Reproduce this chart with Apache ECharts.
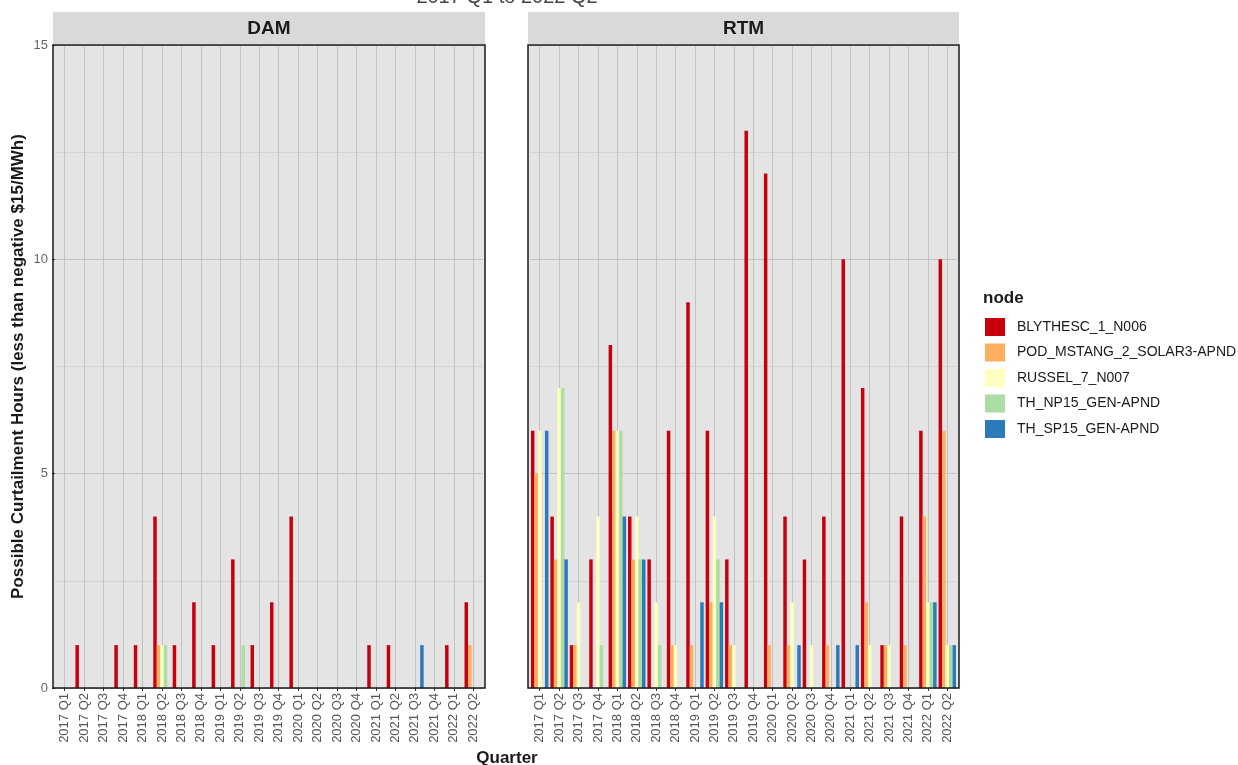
<!DOCTYPE html>
<html>
<head>
<meta charset="utf-8">
<script src="https://cdn.jsdelivr.net/npm/echarts@6/dist/echarts.min.js"></script>
<style>
html,body{margin:0;padding:0;background:#fff;}
#chart{width:1238px;height:765px;}
</style>
</head>
<body>
<div id="chart"></div>
<script>
const categories = ['2017 Q1','2017 Q2','2017 Q3','2017 Q4','2018 Q1','2018 Q2','2018 Q3','2018 Q4',
  '2019 Q1','2019 Q2','2019 Q3','2019 Q4','2020 Q1','2020 Q2','2020 Q3','2020 Q4',
  '2021 Q1','2021 Q2','2021 Q3','2021 Q4','2022 Q1','2022 Q2'];
const nodes = ['BLYTHESC_1_N006','POD_MSTANG_2_SOLAR3-APND','RUSSEL_7_N007','TH_NP15_GEN-APND','TH_SP15_GEN-APND'];
const colors = ['#C8000E','#FDAE61','#FFFFBF','#ABDDA4','#2B7BBA'];
const yTicks = [0, 5, 10, 15];

// DAM values per node
const damBlythe = [0,1,0,1,1,4,1,2,1,3,1,2,4,0,0,0,1,1,0,0,1,2];
const damPod    = [0,0,0,0,0,1,0,0,0,0,0,0,0,0,0,0,0,0,0,0,0,1];
const damRussel = [0,0,0,0,0,1,0,0,0,0,0,0,0,0,0,0,0,0,0,0,0,0];
const damNp15   = [0,0,0,0,0,1,0,0,0,1,0,0,0,0,0,0,0,0,0,0,0,0];
const damSp15   = [0,0,0,0,0,0,0,0,0,0,0,0,0,0,0,0,0,0,1,0,0,0];

// RTM values per node
const rtmBlythe = [6,4,1,3,8,4,3,6,9,6,3,13,12,4,3,4,10,7,1,4,6,10];
const rtmPod    = [5,3,1,0,6,3,0,1,1,2,1,0,1,1,0,1,0,2,1,1,4,6];
const rtmRussel = [6,7,2,4,6,4,2,1,0,4,1,0,0,2,1,0,0,1,1,0,2,1];
const rtmNp15   = [0,7,0,1,6,3,1,0,0,3,0,0,0,0,0,0,0,0,0,0,2,1];
const rtmSp15   = [6,3,0,0,4,3,0,0,2,2,0,0,0,1,0,1,1,0,0,0,2,1];

const damSeries = [damBlythe, damPod, damRussel, damNp15, damSp15];
const rtmSeries = [rtmBlythe, rtmPod, rtmRussel, rtmNp15, rtmSp15];

const FONT = '"Liberation Sans", Arial, sans-serif';
const panelBg = '#E4E4E4';
const gridLine = '#C2C2C2';

// panels (visual frame) and plotting grids (category expansion like ggplot)
const panels = [
  {x: 53, y: 45, w: 432, h: 643},
  {x: 528, y: 45, w: 431, h: 643}
];
const grids = [
  {left: 55, top: 45, width: 428, height: 643},
  {left: 530, top: 45, width: 427, height: 643}
];

function xAxisFor(i){
  return {
    type: 'category', gridIndex: i, data: categories, boundaryGap: true,
    axisLine: {show: false},
    axisTick: {show: true, alignWithLabel: true, length: 3, lineStyle: {color: '#333', width: 1}},
    axisLabel: {rotate: 90, fontSize: 13, color: '#555', fontFamily: FONT, margin: 5, interval: 0},
    splitLine: {show: false}
  };
}
function yAxisFor(i){
  return {
    type: 'value', gridIndex: i, min: yTicks[0], max: yTicks[yTicks.length-1], interval: 5,
    axisLine: {show: false},
    axisTick: {show: i === 0, length: 3, lineStyle: {color: '#333'}},
    axisLabel: {show: i === 0, fontSize: 13, color: '#666', fontFamily: FONT, margin: 7},
    splitLine: {show: true, lineStyle: {color: gridLine, width: 1}},
    minorTick: {show: false, splitNumber: 2},
    minorSplitLine: {show: true, lineStyle: {color: '#D3D3D3', width: 1}},
    name: i === 0 ? 'Possible Curtailment Hours (less than negative $15/MWh)' : '',
    nameLocation: 'middle', nameGap: 28,
    nameTextStyle: {fontSize: 17, fontWeight: 'bold', color: '#1a1a1a', fontFamily: FONT}
  };
}

const series = [];
// vertical grid lines at category centres (ggplot style)
[0, 1].forEach(gi => {
  series.push({
    type: 'line', xAxisIndex: gi, yAxisIndex: gi, data: [], z: 1, silent: true,
    markLine: {
      z: 1, silent: true, symbol: ['none', 'none'], label: {show: false}, animation: false,
      lineStyle: {color: gridLine, width: 1, type: 'solid'},
      emphasis: {disabled: true},
      data: categories.map(c => ({xAxis: c}))
    }
  });
});
[damSeries, rtmSeries].forEach((set, gi) => {
  set.forEach((vals, k) => {
    series.push({
      type: 'bar', name: nodes[k], xAxisIndex: gi, yAxisIndex: gi, z: 3,
      data: vals, barGap: '0%', barCategoryGap: '10%',
      itemStyle: {color: colors[k]},
      emphasis: {disabled: true}
    });
  });
});

const graphics = [];
panels.forEach((p, i) => {
  graphics.push({type: 'rect', z: -10, silent: true, shape: {x: p.x, y: p.y, width: p.w, height: p.h}, style: {fill: panelBg}});
  graphics.push({type: 'rect', z: 50, silent: true, shape: {x: p.x, y: p.y, width: p.w, height: p.h}, style: {fill: 'none', stroke: '#1a1a1a', lineWidth: 1.5}});
  graphics.push({type: 'rect', z: -10, silent: true, shape: {x: p.x, y: 12, width: p.w, height: 32}, style: {fill: '#D9D9D9'}});
  graphics.push({type: 'text', z: 50, x: p.x + p.w / 2, y: 29, style: {text: i === 0 ? 'DAM' : 'RTM', font: 'bold 19px ' + FONT, fill: '#1a1a1a', textAlign: 'center', textVerticalAlign: 'middle'}});
});
graphics.push({type: 'text', x: 983, y: 298, style: {text: 'node', font: 'bold 17px ' + FONT, fill: '#1a1a1a', textVerticalAlign: 'middle'}});
graphics.push({type: 'text', x: 507, y: 758, style: {text: 'Quarter', font: 'bold 17px ' + FONT, fill: '#1a1a1a', textAlign: 'center', textVerticalAlign: 'middle'}});
graphics.push({type: 'text', x: 507, y: 7, style: {text: '2017 Q1 to 2022 Q2', font: '20px ' + FONT, fill: '#444', textAlign: 'center', textVerticalAlign: 'bottom'}});

const chart = echarts.init(document.getElementById('chart'), null, {renderer: 'canvas'});
chart.setOption({
  animation: false,
  backgroundColor: '#fff',
  textStyle: {fontFamily: FONT},
  grid: grids.map(g => Object.assign({show: false}, g)),
  xAxis: [xAxisFor(0), xAxisFor(1)],
  yAxis: [yAxisFor(0), yAxisFor(1)],
  legend: {
    orient: 'vertical', left: 985, top: 318, padding: 0, itemWidth: 20, itemHeight: 18, itemGap: 7.5,
    icon: 'rect', data: nodes,
    textStyle: {fontSize: 14, color: '#1a1a1a', fontFamily: FONT, padding: [0, 0, 0, 7]}
  },
  graphic: graphics,
  series: series
});
</script>
</body>
</html>
